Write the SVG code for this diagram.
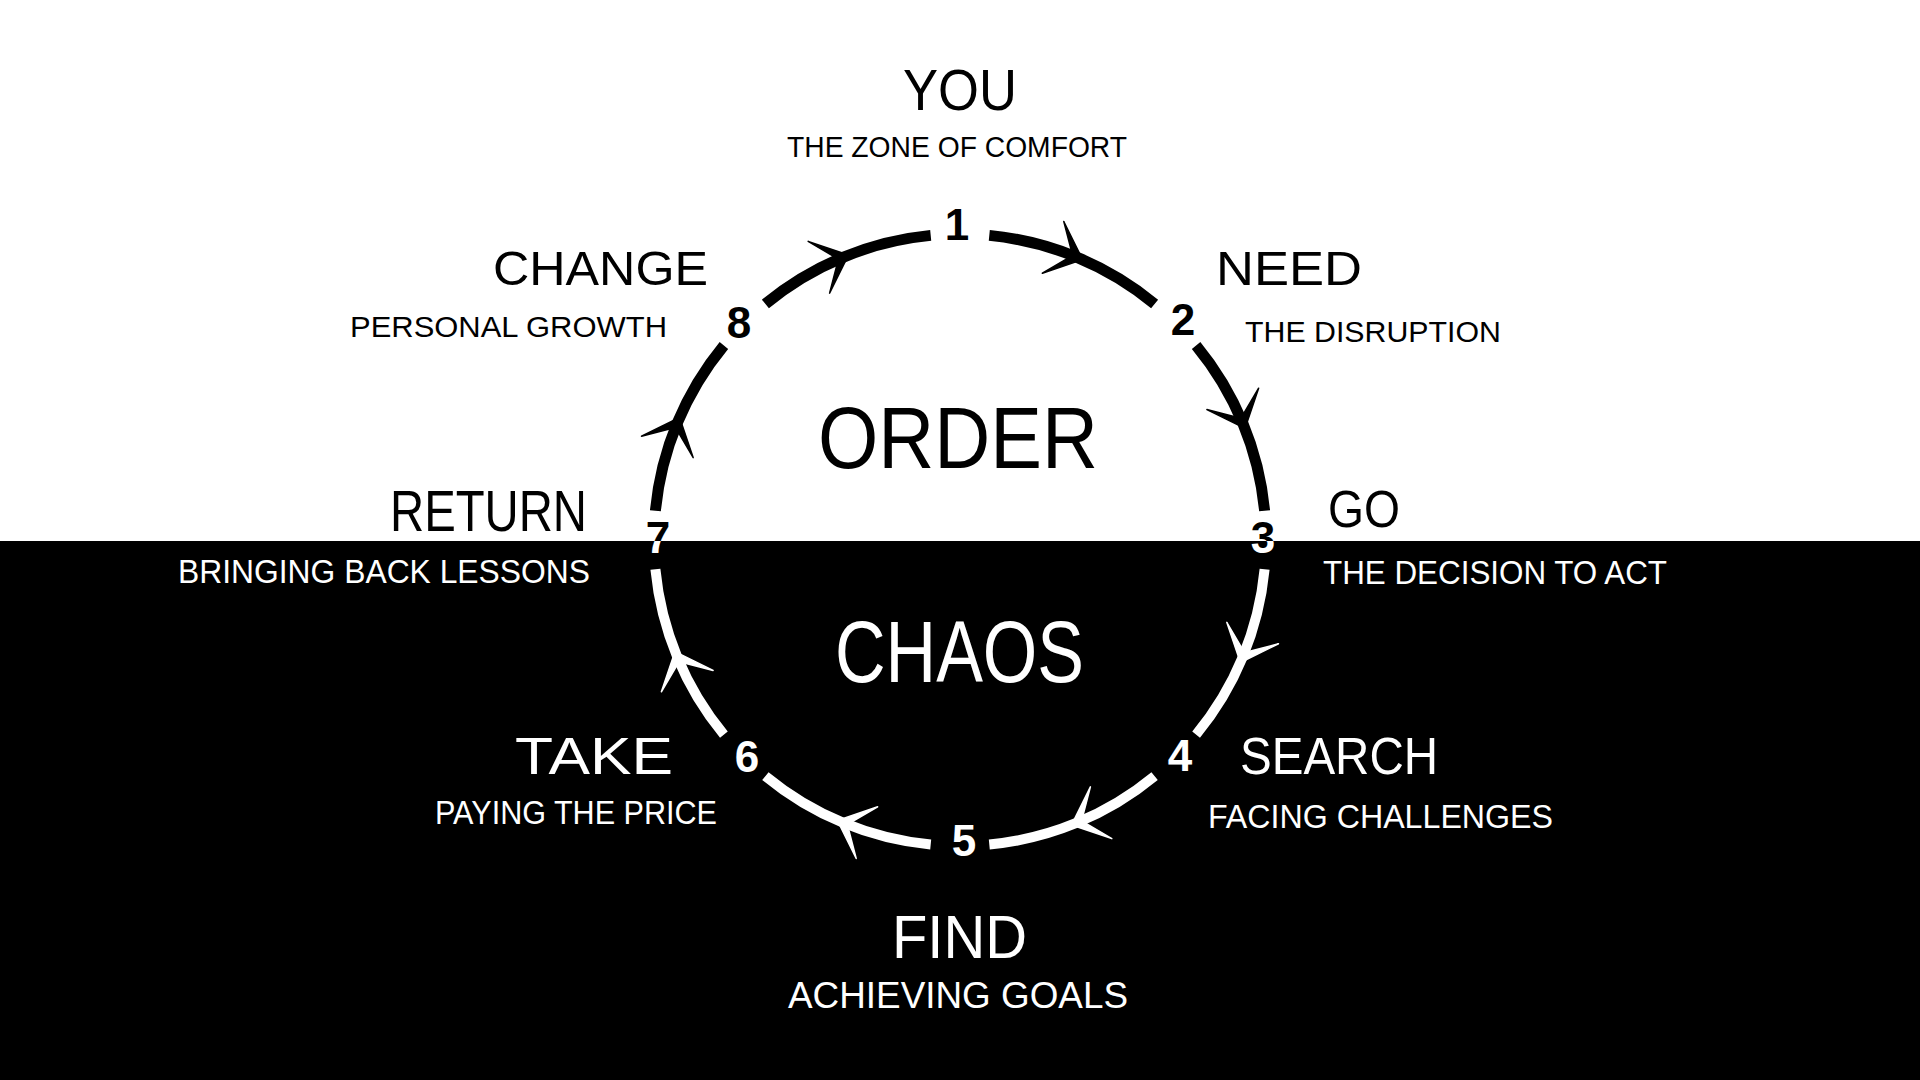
<svg xmlns="http://www.w3.org/2000/svg" xmlns:xlink="http://www.w3.org/1999/xlink" width="1920" height="1080" viewBox="0 0 1920 1080">
  <style>
    text { font-family: "Liberation Sans", "DejaVu Sans", sans-serif; }
    .dark { fill: #000; }
    .light { fill: #fff; }
    .num { font-size: 44px; font-weight: bold; text-anchor: middle; }
    .title { font-size: 88px; }
    .arc-dark { fill: none; stroke: #000; stroke-width: 11; }
    .arc-light { fill: none; stroke: #fff; stroke-width: 10; }
    .ah-dark { fill: #000; stroke: #000; stroke-width: 1.5; stroke-linejoin: round; }
    .ah-light { fill: #fff; stroke: #fff; stroke-width: 1.5; stroke-linejoin: round; }
  </style>
  <defs>
    <clipPath id="topHalf"><rect x="0" y="0" width="1920" height="541"/></clipPath>
    <clipPath id="bottomHalf"><rect x="0" y="541" width="1920" height="539"/></clipPath>
    <g id="chev">
      <polygon points="3,-2.6 -26,-28 -2.6,3"/>
      <polygon points="3,2.6 -26,28 -2.6,-3"/>
    </g>
  </defs>

  <rect id="bg-order" x="0" y="0" width="1920" height="541" fill="#fff"/>
  <rect id="bg-chaos" x="0" y="541" width="1920" height="539" fill="#000"/>

  <g id="connectors">
    <path class="arc-dark" d="M 989.3 235.4 A 306 306 0 0 1 1154.6 303.9"/>
    <path class="arc-dark" d="M 1196.1 345.4 A 306 306 0 0 1 1264.6 510.7"/>
    <path class="arc-light" d="M 1264.6 569.3 A 306 306 0 0 1 1196.1 734.6"/>
    <path class="arc-light" d="M 1154.6 776.1 A 306 306 0 0 1 989.3 844.6"/>
    <path class="arc-light" d="M 930.7 844.6 A 306 306 0 0 1 765.4 776.1"/>
    <path class="arc-light" d="M 723.9 734.6 A 306 306 0 0 1 655.4 569.3"/>
    <path class="arc-dark" d="M 655.4 510.7 A 306 306 0 0 1 723.9 345.4"/>
    <path class="arc-dark" d="M 765.4 303.9 A 306 306 0 0 1 930.7 235.4"/>

    <use xlink:href="#chev" class="ah-dark" transform="translate(1077.1 257.3) rotate(22.5)"/>
    <use xlink:href="#chev" class="ah-dark" transform="translate(1242.7 422.9) rotate(67.5)"/>
    <use xlink:href="#chev" class="ah-light" transform="translate(1242.7 657.1) rotate(112.5)"/>
    <use xlink:href="#chev" class="ah-light" transform="translate(1077.1 822.7) rotate(157.5)"/>
    <use xlink:href="#chev" class="ah-light" transform="translate(842.9 822.7) rotate(202.5)"/>
    <use xlink:href="#chev" class="ah-light" transform="translate(677.3 657.1) rotate(247.5)"/>
    <use xlink:href="#chev" class="ah-dark" transform="translate(677.3 422.9) rotate(292.5)"/>
    <use xlink:href="#chev" class="ah-dark" transform="translate(842.9 257.3) rotate(337.5)"/>
  </g>

  <g id="center-order">
    <text class="dark title" x="818" y="468" textLength="280" lengthAdjust="spacingAndGlyphs">ORDER</text>
  </g>
  <g id="center-chaos">
    <text class="light title" x="835" y="682" textLength="249" lengthAdjust="spacingAndGlyphs">CHAOS</text>
  </g>

  <g id="node-1-you">
    <text class="dark" x="903" y="110" font-size="57" textLength="114" lengthAdjust="spacingAndGlyphs">YOU</text>
    <text class="dark" x="787" y="157" font-size="29" textLength="340" lengthAdjust="spacingAndGlyphs">THE ZONE OF COMFORT</text>
    <text class="dark num" x="957" y="240">1</text>
  </g>

  <g id="node-2-need">
    <text class="dark" x="1216" y="285" font-size="48" textLength="146" lengthAdjust="spacingAndGlyphs">NEED</text>
    <text class="dark" x="1245" y="342" font-size="29" textLength="256" lengthAdjust="spacingAndGlyphs">THE DISRUPTION</text>
    <text class="dark num" x="1183" y="335">2</text>
  </g>

  <g id="node-3-go">
    <text class="dark" x="1328" y="527" font-size="52" textLength="72" lengthAdjust="spacingAndGlyphs">GO</text>
    <text class="light" x="1323" y="584" font-size="34" textLength="344" lengthAdjust="spacingAndGlyphs">THE DECISION TO ACT</text>
    <text class="dark num" x="1263" y="553" clip-path="url(#topHalf)">3</text>
    <text class="light num" x="1263" y="553" clip-path="url(#bottomHalf)">3</text>
  </g>

  <g id="node-4-search">
    <text class="light" x="1240" y="774" font-size="51" textLength="198" lengthAdjust="spacingAndGlyphs">SEARCH</text>
    <text class="light" x="1208" y="828" font-size="34" textLength="345" lengthAdjust="spacingAndGlyphs">FACING CHALLENGES</text>
    <text class="light num" x="1180" y="771">4</text>
  </g>

  <g id="node-5-find">
    <text class="light" x="892" y="958" font-size="62" textLength="135" lengthAdjust="spacingAndGlyphs">FIND</text>
    <text class="light" x="788" y="1008" font-size="36" textLength="340" lengthAdjust="spacingAndGlyphs">ACHIEVING GOALS</text>
    <text class="light num" x="964" y="856">5</text>
  </g>

  <g id="node-6-take">
    <text class="light" x="515" y="774" font-size="51" textLength="158" lengthAdjust="spacingAndGlyphs">TAKE</text>
    <text class="light" x="435" y="824" font-size="34" textLength="282" lengthAdjust="spacingAndGlyphs">PAYING THE PRICE</text>
    <text class="light num" x="747" y="772">6</text>
  </g>

  <g id="node-7-return">
    <text class="dark" x="390" y="531" font-size="58" textLength="197" lengthAdjust="spacingAndGlyphs">RETURN</text>
    <text class="light" x="178" y="583" font-size="34" textLength="412" lengthAdjust="spacingAndGlyphs">BRINGING BACK LESSONS</text>
    <text class="dark num" x="658" y="553" font-size="38" clip-path="url(#topHalf)">7</text>
    <text class="light num" x="658" y="553" font-size="38" clip-path="url(#bottomHalf)">7</text>
  </g>

  <g id="node-8-change">
    <text class="dark" x="493" y="285" font-size="48" textLength="215" lengthAdjust="spacingAndGlyphs">CHANGE</text>
    <text class="dark" x="350" y="337" font-size="30" textLength="317" lengthAdjust="spacingAndGlyphs">PERSONAL GROWTH</text>
    <text class="dark num" x="739" y="338">8</text>
  </g>
</svg>
